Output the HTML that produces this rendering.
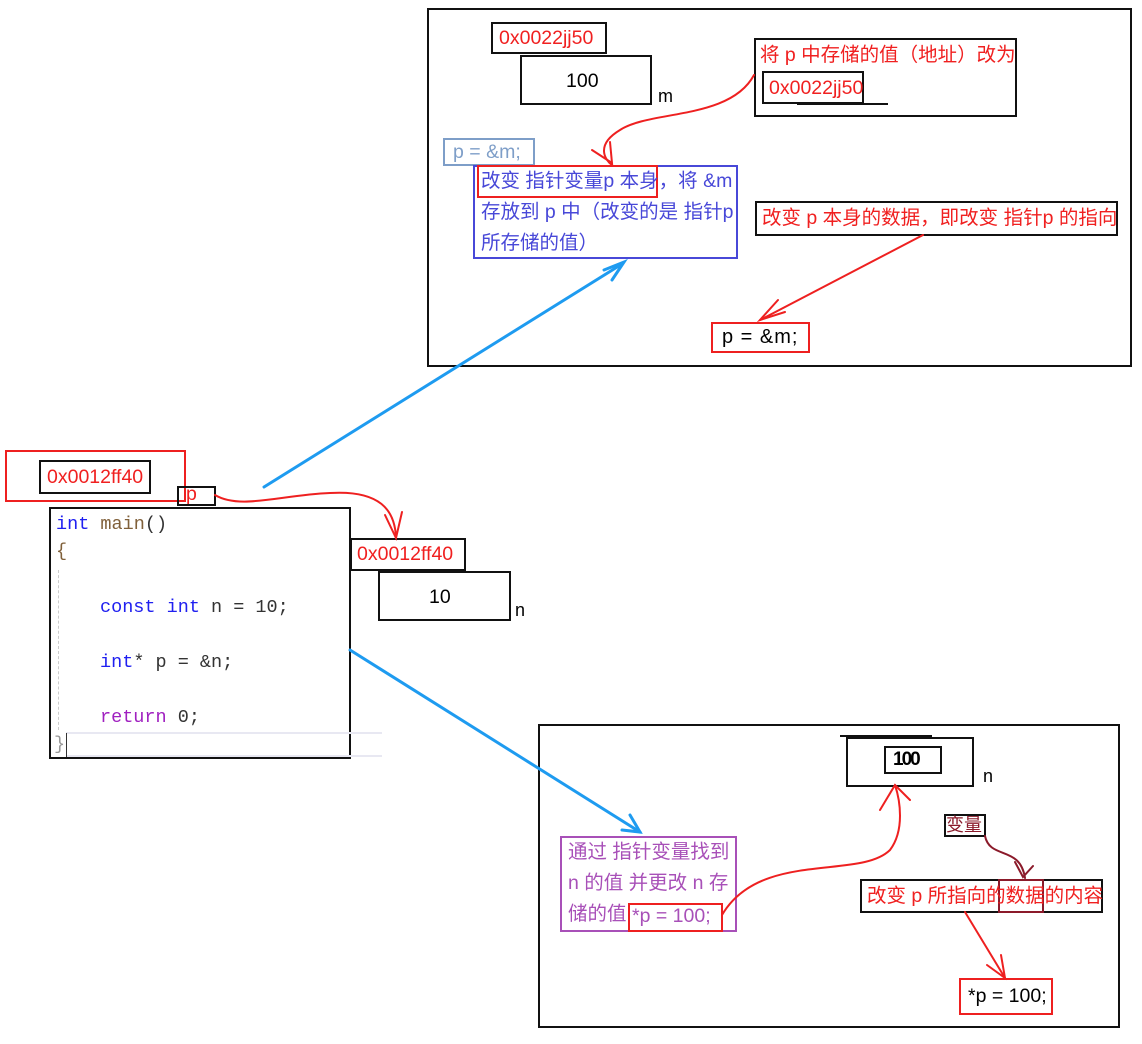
<!DOCTYPE html>
<html><head><meta charset="utf-8">
<style>
body{margin:0;width:1142px;height:1044px;background:#fff;position:relative;overflow:hidden;font-family:"Liberation Sans","Noto Sans CJK SC",sans-serif;}
.b{position:absolute;box-sizing:border-box;}
.t{position:absolute;white-space:nowrap;line-height:24px;font-size:19.5px;}
.red{color:#f02020;}
.code{font-family:"Liberation Mono","DejaVu Sans Mono",monospace;font-size:18.5px;position:absolute;white-space:pre;color:#333;line-height:22px;}
.kw{color:#2020f0}
.pk{color:#a020c0}
.fn{color:#80603a}
</style></head><body>
<!-- top panel -->
<div class="b" style="left:427px;top:8px;width:705px;height:359px;border:2px solid #111;"></div>
<div class="b" style="left:491px;top:22px;width:116px;height:32px;border:2px solid #111;"></div>
<div class="t red" style="left:499px;top:26px;">0x0022jj50</div>
<div class="b" style="left:520px;top:55px;width:132px;height:50px;border:2px solid #111;"></div>
<div class="t" style="left:566px;top:69px;">100</div>
<div class="t" style="left:658px;top:84px;font-size:18px;">m</div>

<div class="b" style="left:754px;top:38px;width:263px;height:79px;border:2px solid #111;"></div>
<div class="t red" style="left:760px;top:43px;">将 p 中存储的值（地址）改为</div>
<div class="b" style="left:762px;top:71px;width:102px;height:33px;border:2px solid #111;"></div>
<div class="t red" style="left:769px;top:76px;">0x0022jj50</div>
<div class="b" style="left:797px;top:103px;width:91px;height:2px;background:#111;"></div>

<div class="b" style="left:443px;top:138px;width:92px;height:28px;border:2px solid #7e9ec8;"></div>
<div class="t" style="left:453px;top:140px;color:#7e9ec8;">p = &amp;m;</div>
<div class="b" style="left:473px;top:165px;width:265px;height:94px;border:2px solid #4848d8;"></div>
<div class="b" style="left:477px;top:165px;width:181px;height:33px;border:2px solid #ee2020;"></div>
<div class="t" style="left:481px;top:166px;color:#4848d8;line-height:31px;">改变 指针变量p 本身，将 &amp;m<br>存放到 p 中（改变的是 指针p<br>所存储的值）</div>

<div class="b" style="left:755px;top:201px;width:363px;height:35px;border:2px solid #111;"></div>
<div class="t red" style="left:762px;top:206px;">改变 p 本身的数据，即改变 指针p 的指向</div>
<div class="b" style="left:711px;top:322px;width:99px;height:31px;border:2px solid #ee2020;"></div>
<div class="t" style="left:722px;top:325px;font-size:20px;letter-spacing:1px;">p = &amp;m;</div>

<!-- left -->
<div class="b" style="left:5px;top:450px;width:181px;height:52px;border:2px solid #ee2020;"></div>
<div class="b" style="left:39px;top:460px;width:112px;height:34px;border:2px solid #111;"></div>
<div class="t red" style="left:47px;top:465px;">0x0012ff40</div>
<div class="b" style="left:177px;top:486px;width:39px;height:20px;border:2px solid #111;"></div>
<div class="t red" style="left:186px;top:482px;">p</div>
<div class="b" style="left:49px;top:507px;width:302px;height:252px;border:2px solid #111;"></div>
<div class="b" style="left:58px;top:570px;width:0;height:160px;border-left:1px dashed #ccc;"></div>
<div class="b" style="left:66px;top:732px;width:316px;height:2px;background:#e8e8f2;"></div>
<div class="b" style="left:66px;top:755px;width:316px;height:2px;background:#e8e8f2;"></div>
<div class="b" style="left:66px;top:733px;width:1px;height:24px;background:#333;"></div>
<div class="code" style="left:56px;top:514px;"><span class="kw">int</span> <span class="fn">main</span>()</div>
<div class="code" style="left:56px;top:541px;color:#80603a">{</div>
<div class="code" style="left:100px;top:597px;"><span class="kw">const int</span> n = 10;</div>
<div class="code" style="left:100px;top:652px;"><span class="kw">int</span>* p = &amp;n;</div>
<div class="code" style="left:100px;top:707px;"><span class="pk">return</span> 0;</div>
<div class="code" style="left:54px;top:734px;color:#999">}</div>

<div class="b" style="left:350px;top:538px;width:116px;height:33px;border:2px solid #111;"></div>
<div class="t red" style="left:357px;top:542px;">0x0012ff40</div>
<div class="b" style="left:378px;top:571px;width:133px;height:50px;border:2px solid #111;"></div>
<div class="t" style="left:429px;top:585px;">10</div>
<div class="t" style="left:515px;top:598px;font-size:18px;">n</div>

<!-- bottom panel -->
<div class="b" style="left:538px;top:724px;width:582px;height:304px;border:2px solid #111;"></div>
<div class="b" style="left:840px;top:735px;width:92px;height:2px;background:#111;"></div>
<div class="b" style="left:846px;top:737px;width:128px;height:50px;border:2px solid #111;"></div>
<div class="b" style="left:884px;top:746px;width:58px;height:28px;border:2px solid #111;"></div>
<div class="t" style="left:893px;top:748px;font-size:19px;font-weight:bold;letter-spacing:-2px;">100</div>
<div class="t" style="left:983px;top:764px;font-size:18px;">n</div>

<div class="b" style="left:560px;top:836px;width:177px;height:96px;border:2px solid #a850b8;"></div>
<div class="t" style="left:568px;top:837px;color:#a850b8;line-height:31px;">通过 指针变量找到<br>n 的值 并更改 n 存<br>储的值</div>
<div class="b" style="left:628px;top:903px;width:95px;height:29px;border:2px solid #ee2020;"></div>
<div class="t" style="left:632px;top:904px;color:#a850b8;">*p = 100;</div>

<div class="b" style="left:944px;top:814px;width:42px;height:23px;border:2px solid #111;"></div>
<div class="t" style="left:946px;top:813px;font-size:18px;color:#8b1a2a;">变量</div>
<div class="b" style="left:860px;top:879px;width:243px;height:34px;border:2px solid #111;"></div>
<div class="b" style="left:998px;top:879px;width:46px;height:34px;border:2px solid #8b1a2a;"></div>
<div class="t red" style="left:867px;top:884px;">改变 p 所指向的数据的内容</div>
<div class="b" style="left:959px;top:978px;width:94px;height:37px;border:2px solid #ee2020;"></div>
<div class="t" style="left:968px;top:984px;">*p = 100;</div>

<svg width="1142" height="1044" style="position:absolute;left:0;top:0" fill="none" stroke-linecap="round">
<g stroke="#1e9bf0" stroke-width="3">
<path d="M264 487 L622 264"/><path d="M604 270 L624 262 L612 280"/>
<path d="M350 650 L640 832"/><path d="M622 830 L640 832 L630 815"/>
</g>
<g stroke="#ee2020" stroke-width="2">
<path d="M754 75 C730 120 650 110 620 130 C595 145 605 160 612 165"/>
<path d="M592 150 L612 163 L610 142"/>
<path d="M923 235 L760 320"/><path d="M778 300 L760 320 L785 312"/>
<path d="M215 495 C240 510 280 495 330 493 C380 490 395 510 396 538"/>
<path d="M385 515 L396 538 L402 512"/>
<path d="M722 915 C760 850 860 880 890 850 C905 830 900 800 895 785"/>
<path d="M880 810 L895 785 L910 800"/>
<path d="M965 912 L1005 978"/><path d="M987 965 L1005 978 L1001 955"/>
</g>
<g stroke="#8b1a2a" stroke-width="2">
<path d="M985 836 C990 860 1020 845 1025 878"/><path d="M1015 862 L1023 877 L1033 866"/>
</g>
</svg>
</body></html>
